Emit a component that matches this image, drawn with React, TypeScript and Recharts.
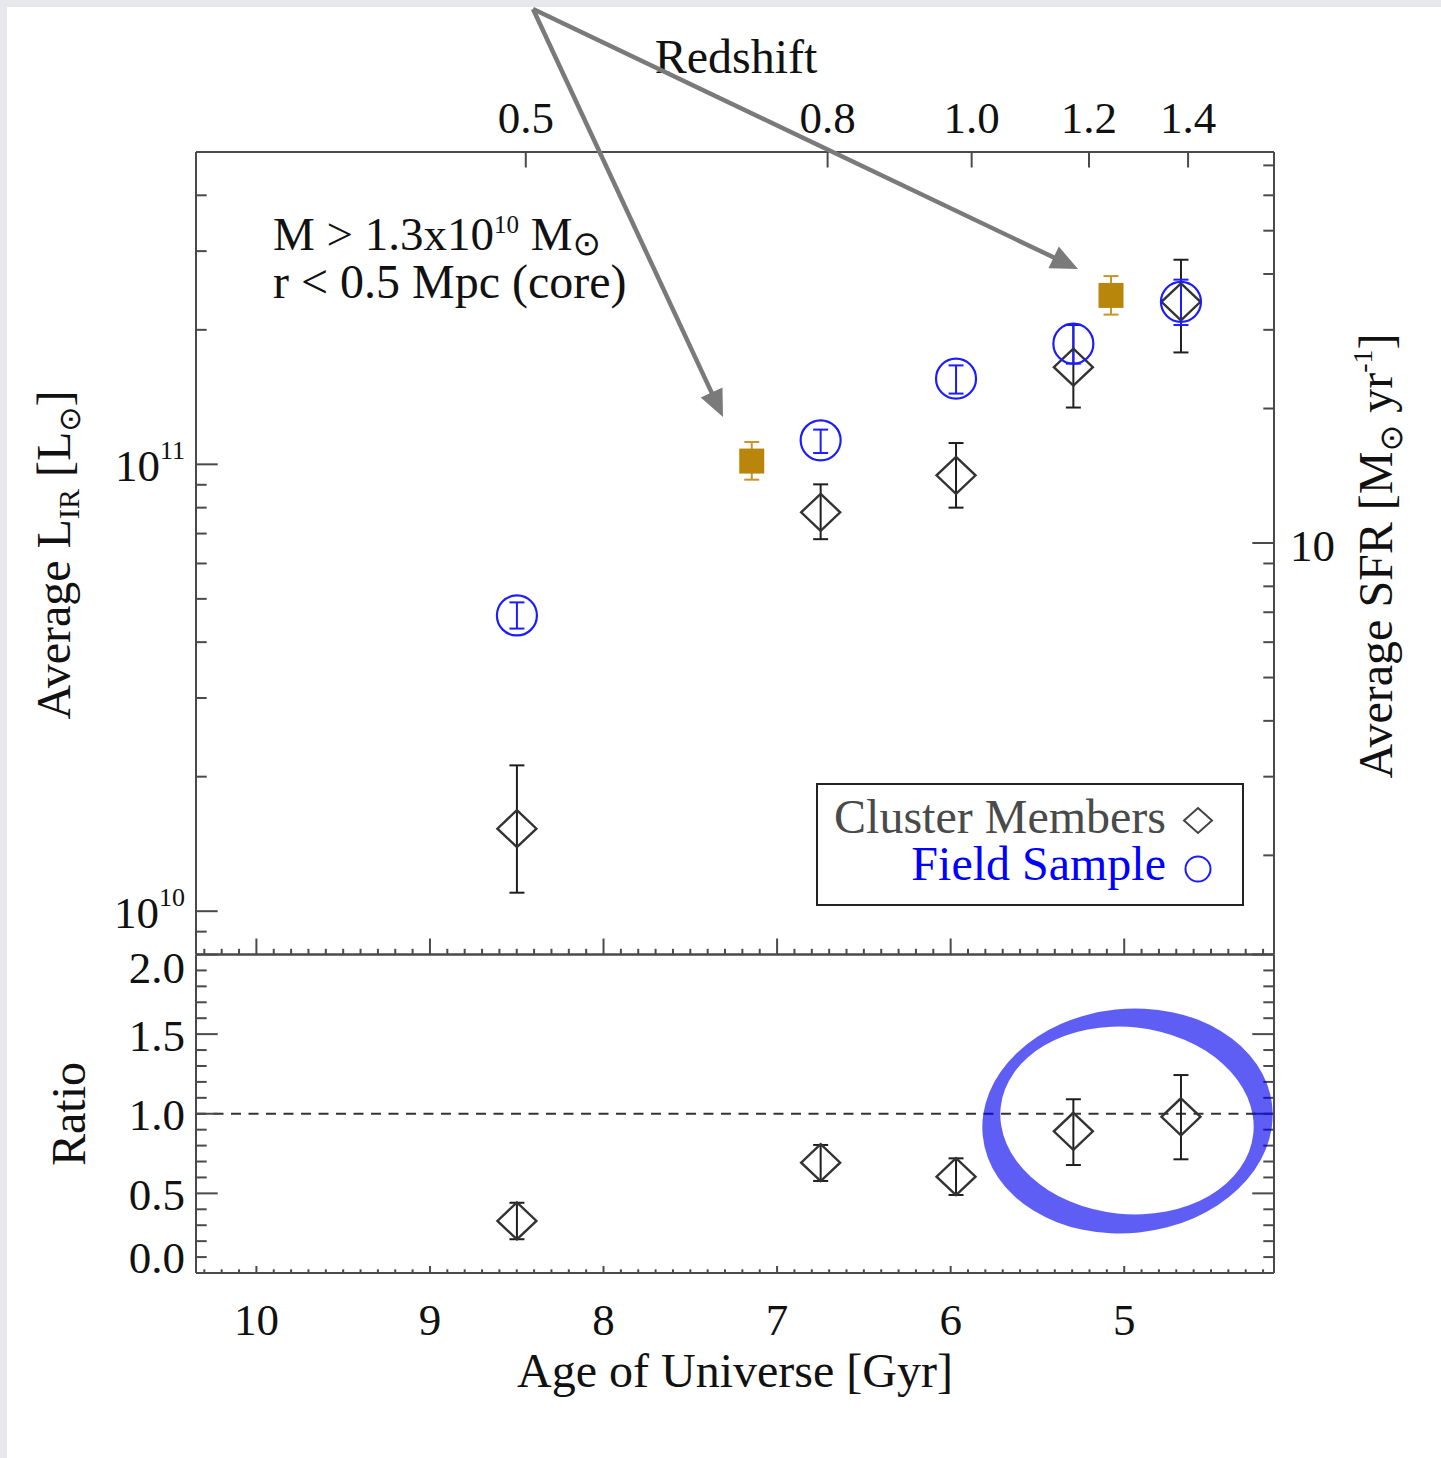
import React from 'react';
import { ScatterChart, Scatter, XAxis, YAxis, ErrorBar, ReferenceLine } from 'recharts';

// ---------------- data ----------------
const ageGyr = [8.499, 6.749, 5.969, 5.293, 4.673];
const clusterLIR = [1.53e10, 7.81e10, 9.45e10, 1.65e11, 2.31e11];
const clusterLIRLow = [1.1e10, 6.8e10, 8.0e10, 1.34e11, 1.78e11];
const clusterLIRHigh = [2.12e10, 9.02e10, 1.116e11, 2.05e11, 2.87e11];
const fieldLIR = [4.59e10, 1.132e11, 1.555e11, 1.862e11, 2.31e11];
const fieldLIRLow = [4.29e10, 1.06e11, 1.44e11, 1.68e11, 2.05e11];
const fieldLIRHigh = [4.91e10, 1.196e11, 1.665e11, 2.053e11, 2.59e11];
const highlightAge = [7.146, 5.076];
const highlightLIR = [1.017e11, 2.388e11];
const highlightLIRLow = [9.24e10, 2.163e11];
const highlightLIRHigh = [1.122e11, 2.638e11];
const ratioValues = [0.327, 0.693, 0.605, 0.89, 0.981];
const ratioLow = [0.212, 0.578, 0.49, 0.678, 0.714];
const ratioHigh = [0.441, 0.804, 0.72, 1.091, 1.243];

// ---------------- axes ----------------
const AGE_DOMAIN: [number, number] = [4.137, 10.348];
const LIR_DOMAIN: [number, number] = [8e9, 5e11];
const SFR_PER_LIR = 1.5e-10;
const SFR_DOMAIN: [number, number] = [LIR_DOMAIN[0] * SFR_PER_LIR, LIR_DOMAIN[1] * SFR_PER_LIR];
const RATIO_DOMAIN: [number, number] = [0, 2];

const ageMajorTicks = [10, 9, 8, 7, 6, 5];
const ageMinorTicks: number[] = [];
for (let i = 42; i <= 103; i++) ageMinorTicks.push(i / 10);
const redshiftLabels = ['0.5', '0.8', '1.0', '1.2', '1.4'];
const redshiftAges = [8.448, 6.709, 5.879, 5.203, 4.632];
const lirMajorTicks = [1e10, 1e11];
const lirTicks = [9e9, 1e10, 2e10, 3e10, 4e10, 5e10, 6e10, 7e10, 8e10, 9e10, 1e11, 2e11, 3e11, 4e11];
const sfrMajorTicks = [10];
const sfrTicks = [2, 3, 4, 5, 6, 7, 8, 9, 10, 20, 30, 40, 50, 60, 70];
const ratioMajorTicks = [0, 0.5, 1, 1.5, 2];
const ratioTickLabels = ['0.0', '0.5', '1.0', '1.5', '2.0'];
const ratioTicks: number[] = [];
for (let i = 0; i <= 20; i++) ratioTicks.push(i / 10);

// ---------------- tables ----------------
const clusterData = ageGyr.map((a, i) => ({ age: a, L: clusterLIR[i], err: [clusterLIR[i] - clusterLIRLow[i], clusterLIRHigh[i] - clusterLIR[i]] }));
const fieldData = ageGyr.map((a, i) => ({ age: a, L: fieldLIR[i], err: [fieldLIR[i] - fieldLIRLow[i], fieldLIRHigh[i] - fieldLIR[i]] }));
const highlightData = highlightAge.map((a, i) => ({ age: a, L: highlightLIR[i], err: [highlightLIR[i] - highlightLIRLow[i], highlightLIRHigh[i] - highlightLIR[i]] }));
const ratioData = ageGyr.map((a, i) => ({ age: a, ratio: ratioValues[i], err: [ratioValues[i] - ratioLow[i], ratioHigh[i] - ratioValues[i]] }));
const redshiftAnchorData = redshiftAges.map((a) => ({ age: a, L: LIR_DOMAIN[1] }));

// ---------------- styles ----------------
const FONT = '"Liberation Serif", "Times New Roman", Times, serif';
const SYM = '"DejaVu Sans", "Noto Sans", sans-serif';
const AXIS_COLOR = '#4a4a4a';
const TEXT = '#111';
const BLUE = '#1c1cff';
const GOLD = '#b8860b';
const AXIS_LINE = { stroke: AXIS_COLOR, strokeWidth: 2 };

const isIn = (list: number[], v: number) => list.some((m) => Math.abs(m - v) <= Math.abs(m) * 1e-6 + 1e-9);

type Side = 'top' | 'bottom' | 'left' | 'right';
function makeTick(side: Side, majors: number[], majorLen: number, minorLen: number, label?: (v: number, x: number, y: number) => React.ReactNode) {
  return (props: any) => {
    const { x, y, payload } = props;
    const v = payload.value as number;
    const major = isIn(majors, v);
    const len = major ? majorLen : minorLen;
    let x2 = x;
    let y2 = y;
    if (side === 'bottom') y2 = y - len;
    else if (side === 'top') y2 = y + len;
    else if (side === 'left') x2 = x + len;
    else x2 = x - len;
    return (
      <g>
        {len > 0 && <line x1={x} y1={y} x2={x2} y2={y2} stroke={AXIS_COLOR} strokeWidth={2} />}
        {major && label ? label(v, x, y) : null}
      </g>
    );
  };
}

const tickText = { fontFamily: FONT, fontSize: 45, fill: TEXT };

const redshiftTick = (props: any) => {
  const { x, y, payload } = props;
  const v = Number(payload.value);
  let best = 0;
  redshiftAges.forEach((a, i) => {
    if (Math.abs(a - v) < Math.abs(redshiftAges[best] - v)) best = i;
  });
  return (
    <g>
      <line x1={x} y1={y} x2={x} y2={y + 15.5} stroke={AXIS_COLOR} strokeWidth={2} />
      <text x={x} y={y - 19.5} textAnchor="middle" {...tickText}>
        {redshiftLabels[best]}
      </text>
    </g>
  );
};
const topPanelBottomTick = makeTick('bottom', ageMajorTicks, 16, 5.7);
const bottomPanelTopTick = makeTick('top', ageMajorTicks, 6, 3);
const ageTick = makeTick('bottom', ageMajorTicks, 7, 3.7, (v, x, y) => (
  <text x={x} y={y + 62} textAnchor="middle" {...tickText}>
    {String(v)}
  </text>
));
const lirTick = makeTick('left', lirMajorTicks, 21.7, 10.7, (v, x, y) => (
  <text x={x - 11} y={y + 17} textAnchor="end" {...tickText}>
    10
    <tspan dy={-22} fontSize={26}>
      {String(Math.round(Math.log10(v)))}
    </tspan>
  </text>
));
const sfrTick = makeTick('right', sfrMajorTicks, 21.7, 10.7, (v, x, y) => (
  <text x={x + 16} y={y + 17.5} textAnchor="start" {...tickText}>
    {String(v)}
  </text>
));
const ratioTickLeft = makeTick('left', ratioMajorTicks, 21.7, 10.7, (v, x, y) => {
  const i = ratioMajorTicks.findIndex((m) => Math.abs(m - v) < 1e-9);
  const off = v >= 2 ? 28.5 : v <= 0 ? 0 : 16.5;
  return (
    <text x={x - 11} y={y + off} textAnchor="end" {...tickText}>
      {ratioTickLabels[i]}
    </text>
  );
});
const ratioTickRight = makeTick('right', ratioMajorTicks, 21.7, 10.7);

// ---------------- shapes ----------------
const DiamondShape = (props: any) => {
  const { cx, cy } = props;
  if (cx == null || cy == null) return null;
  return (
    <path
      d={`M${cx},${cy - 18.5}L${cx + 19.5},${cy}L${cx},${cy + 18.5}L${cx - 19.5},${cy}Z`}
      fill="none"
      stroke="#333"
      strokeWidth={2.4}
    />
  );
};
const CircleShape = (props: any) => {
  const { cx, cy } = props;
  if (cx == null || cy == null) return null;
  return <circle cx={cx} cy={cy} r={20} fill="none" stroke={BLUE} strokeWidth={2.2} />;
};
const SquareShape = (props: any) => {
  const { cx, cy } = props;
  if (cx == null || cy == null) return null;
  return <rect x={cx - 12.5} y={cy - 12.5} width={25} height={25} fill={GOLD} />;
};
const NoShape = () => <g />;

// ---------------- annotations ----------------
const ARROW_ORIGIN: [number, number] = [533, 9];
const ARROW_TIPS: [number, number][] = [
  [723, 417],
  [1078, 269],
];
function Arrow({ from, to }: { from: [number, number]; to: [number, number] }) {
  const dx = to[0] - from[0];
  const dy = to[1] - from[1];
  const len = Math.sqrt(dx * dx + dy * dy);
  const ux = dx / len;
  const uy = dy / len;
  const headLen = 27;
  const headW = 12;
  const bx = to[0] - ux * headLen;
  const by = to[1] - uy * headLen;
  const px = -uy;
  const py = ux;
  return (
    <g>
      <line x1={from[0]} y1={from[1]} x2={bx + ux * 2} y2={by + uy * 2} stroke="#7a7a7a" strokeWidth={4.5} />
      <polygon
        points={`${to[0]},${to[1]} ${bx + px * headW},${by + py * headW} ${bx - px * headW},${by - py * headW}`}
        fill="#7a7a7a"
      />
    </g>
  );
}

function ellipsePath(cx: number, cy: number, a: number, b: number, deg: number) {
  const t = (deg * Math.PI) / 180;
  const x0 = cx + a * Math.cos(t);
  const y0 = cy + a * Math.sin(t);
  const x1 = cx - a * Math.cos(t);
  const y1 = cy - a * Math.sin(t);
  return `M${x0},${y0} A${a},${b} ${deg} 1 0 ${x1},${y1} A${a},${b} ${deg} 1 0 ${x0},${y0} Z`;
}

function Overlay() {
  const ring = ellipsePath(1127.5, 1121, 145.5, 112, -6) + ' ' + ellipsePath(1127, 1120.5, 127, 93.5, 6);
  return (
    <svg width={1441} height={1458} style={{ position: 'absolute', left: 0, top: 0, pointerEvents: 'none' }}>
      {/* titles */}
      <text x={736} y={73} textAnchor="middle" fontFamily={FONT} fontSize={48} fill={TEXT}>
        Redshift
      </text>
      <text x={735} y={1387} textAnchor="middle" fontFamily={FONT} fontSize={48} fill={TEXT}>
        Age of Universe [Gyr]
      </text>
      <text x={70} y={555} transform="rotate(-90 70 555)" textAnchor="middle" fontFamily={FONT} fontSize={48} fill={TEXT}>
        Average L
        <tspan fontSize={30} dy={9}>
          IR
        </tspan>
        <tspan dy={-9}> [L</tspan>
        <tspan fontFamily={SYM} fontSize={30} dy={10}>
          ⊙
        </tspan>
        <tspan dy={-10}>]</tspan>
      </text>
      <text x={1392} y={556} transform="rotate(-90 1392 556)" textAnchor="middle" fontFamily={FONT} fontSize={48} fill={TEXT}>
        Average SFR [M
        <tspan fontFamily={SYM} fontSize={32} dy={10}>
          ⊙
        </tspan>
        <tspan dy={-10}> yr</tspan>
        <tspan fontSize={28} dy={-20}>
          -1
        </tspan>
        <tspan dy={20}>]</tspan>
      </text>
      <text x={85} y={1114} transform="rotate(-90 85 1114)" textAnchor="middle" fontFamily={FONT} fontSize={48} fill={TEXT}>
        Ratio
      </text>

      {/* sample description */}
      <text x={273} y={250} fontFamily={FONT} fontSize={47} fill={TEXT}>
        M &gt; 1.3x10
        <tspan fontSize={25} dy={-17}>
          10
        </tspan>
        <tspan dy={17}> M</tspan>
        <tspan fontFamily={SYM} fontSize={34} dy={5}>
          ⊙
        </tspan>
      </text>
      <text x={273} y={298} fontFamily={FONT} fontSize={48} fill={TEXT}>
        r &lt; 0.5 Mpc (core)
      </text>

      {/* legend */}
      <rect x={817} y={784} width={426} height={121} fill="none" stroke="#222" strokeWidth={2} />
      <text x={1166} y={833} textAnchor="end" fontFamily={FONT} fontSize={48} fill="#4a4a4a">
        Cluster Members
      </text>
      <path d="M1198,808 L1212,820.5 L1198,833 L1184,820.5 Z" fill="none" stroke="#444" strokeWidth={2} />
      <text x={1166} y={880} textAnchor="end" fontFamily={FONT} fontSize={48} fill="#0000ff">
        Field Sample
      </text>
      <circle cx={1198} cy={869} r={12.5} fill="none" stroke={BLUE} strokeWidth={2} />

      {/* arrows */}
      {ARROW_TIPS.map((tip, i) => (
        <Arrow key={i} from={ARROW_ORIGIN} to={tip} />
      ))}

      {/* highlight ring */}
      <path d={ring} fill="#0000ee" fillOpacity={0.63} fillRule="evenodd" />
    </svg>
  );
}

export default function App() {
  return (
    <div style={{ position: 'absolute', left: 0, top: 0, width: 1441, height: 1458, background: '#e6e8eb', overflow: 'hidden' }}>
      <div style={{ position: 'absolute', left: 7, top: 7, width: 1434, height: 1451, background: '#ffffff' }} />
      <div style={{ position: 'absolute', left: 0, top: 0 }}>
        <ScatterChart width={1441} height={1000} margin={{ top: 92, right: 67, bottom: 15.5, left: 96 }}>
          <XAxis
            xAxisId="age"
            type="number"
            dataKey="age"
            orientation="bottom"
            domain={AGE_DOMAIN}
            reversed
            allowDataOverflow
            ticks={ageMinorTicks}
            interval={0}
            height={30}
            tickSize={0}
            tickMargin={0}
            tickLine={false}
            axisLine={AXIS_LINE}
            tick={topPanelBottomTick}
          />
          <XAxis
            xAxisId="z"
            type="number"
            dataKey="age"
            orientation="top"
            domain={AGE_DOMAIN}
            reversed
            allowDataOverflow
            ticks={redshiftAges}
            interval={0}
            height={60}
            tickSize={0}
            tickMargin={0}
            tickLine={false}
            axisLine={AXIS_LINE}
            tick={redshiftTick}
          />
          <YAxis
            yAxisId="L"
            type="number"
            dataKey="L"
            scale="log"
            domain={LIR_DOMAIN}
            allowDataOverflow
            ticks={lirTicks}
            interval={0}
            width={100}
            tickSize={0}
            tickMargin={0}
            tickLine={false}
            axisLine={AXIS_LINE}
            tick={lirTick}
          />
          <YAxis
            yAxisId="S"
            type="number"
            orientation="right"
            scale="log"
            domain={SFR_DOMAIN}
            allowDataOverflow
            ticks={sfrTicks}
            interval={0}
            width={100}
            tickSize={0}
            tickMargin={0}
            tickLine={false}
            axisLine={AXIS_LINE}
            tick={sfrTick}
          />
          <Scatter name="redshift-anchor" xAxisId="z" yAxisId="L" data={redshiftAnchorData} shape={NoShape} isAnimationActive={false} />
          <Scatter name="Cluster Members" xAxisId="age" yAxisId="L" data={clusterData} shape={DiamondShape} isAnimationActive={false}>
            <ErrorBar dataKey="err" direction="y" width={7.5} stroke="#1e1e1e" strokeWidth={2} />
          </Scatter>
          <Scatter name="Field Sample" xAxisId="age" yAxisId="L" data={fieldData} shape={CircleShape} isAnimationActive={false}>
            <ErrorBar dataKey="err" direction="y" width={7.5} stroke={BLUE} strokeWidth={2} />
          </Scatter>
          <Scatter name="Highlighted" xAxisId="age" yAxisId="L" data={highlightData} shape={SquareShape} isAnimationActive={false}>
            <ErrorBar dataKey="err" direction="y" width={7.5} stroke="#c8952a" strokeWidth={2} />
          </Scatter>
        </ScatterChart>
      </div>
      <div style={{ position: 'absolute', left: 0, top: 0 }}>
        <ScatterChart width={1441} height={1458} margin={{ top: 924.5, right: 67, bottom: 85, left: 96 }}>
          <XAxis
            xAxisId="age"
            type="number"
            dataKey="age"
            orientation="bottom"
            domain={AGE_DOMAIN}
            reversed
            allowDataOverflow
            ticks={ageMinorTicks}
            interval={0}
            height={100}
            tickSize={0}
            tickMargin={0}
            tickLine={false}
            axisLine={AXIS_LINE}
            tick={ageTick}
          />
          <XAxis
            xAxisId="ageTop"
            type="number"
            orientation="top"
            domain={AGE_DOMAIN}
            reversed
            allowDataOverflow
            ticks={ageMinorTicks}
            interval={0}
            height={30}
            tickSize={0}
            tickMargin={0}
            tickLine={false}
            axisLine={AXIS_LINE}
            tick={bottomPanelTopTick}
          />
          <YAxis
            yAxisId="ratio"
            type="number"
            dataKey="ratio"
            domain={RATIO_DOMAIN}
            allowDataOverflow
            ticks={ratioTicks}
            interval={0}
            width={100}
            tickSize={0}
            tickMargin={0}
            tickLine={false}
            axisLine={AXIS_LINE}
            tick={ratioTickLeft}
          />
          <YAxis
            yAxisId="ratioR"
            type="number"
            orientation="right"
            domain={RATIO_DOMAIN}
            allowDataOverflow
            ticks={ratioTicks}
            interval={0}
            width={100}
            tickSize={0}
            tickMargin={0}
            tickLine={false}
            axisLine={AXIS_LINE}
            tick={ratioTickRight}
          />
          <ReferenceLine xAxisId="age" yAxisId="ratio" y={1} stroke="#333" strokeWidth={2} strokeDasharray="10 7.5" />
          <Scatter name="Ratio" xAxisId="age" yAxisId="ratio" data={ratioData} shape={DiamondShape} isAnimationActive={false}>
            <ErrorBar dataKey="err" direction="y" width={7.5} stroke="#1e1e1e" strokeWidth={2} />
          </Scatter>
        </ScatterChart>
      </div>
      <Overlay />
    </div>
  );
}
